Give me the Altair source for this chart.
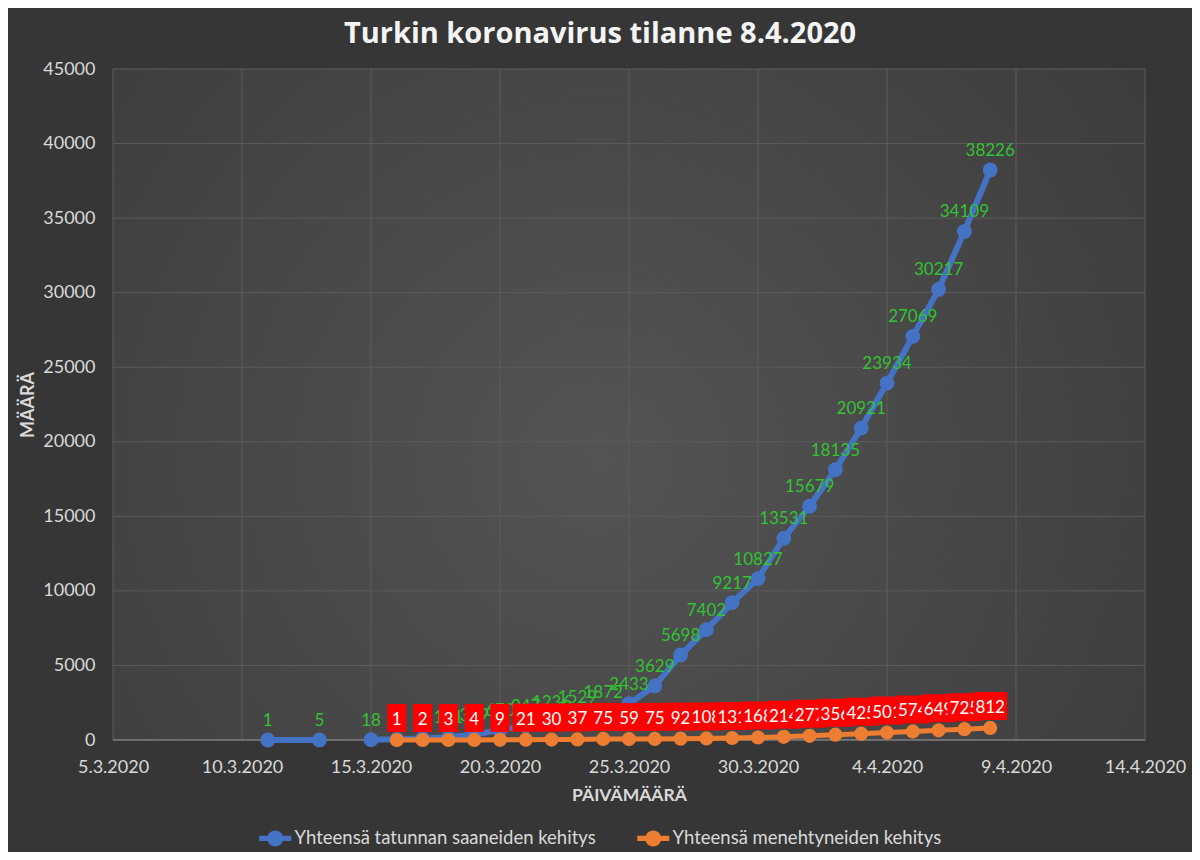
import altair as alt
import pandas as pd

TITLE = "Turkin koronavirus tilanne 8.4.2020"
SERIES = ["Yhteensä tatunnan saaneiden kehitys", "Yhteensä menehtyneiden kehitys"]
X_TITLE = "PÄIVÄMÄÄRÄ"
Y_TITLE = "MÄÄRÄ"

case_dates = ["2020-03-11", "2020-03-13", "2020-03-14", "2020-03-15", "2020-03-16",
              "2020-03-17", "2020-03-18", "2020-03-19", "2020-03-20", "2020-03-21",
              "2020-03-22", "2020-03-23", "2020-03-24", "2020-03-25", "2020-03-26",
              "2020-03-27", "2020-03-28", "2020-03-29", "2020-03-30", "2020-03-31",
              "2020-04-01", "2020-04-02", "2020-04-03", "2020-04-04", "2020-04-05",
              "2020-04-06", "2020-04-07", "2020-04-08"]
case_values = [1, 5, None, 18, 47, 98, 191, 359, 670, 947, 1236, 1529, 1872, 2433,
               3629, 5698, 7402, 9217, 10827, 13531, 15679, 18135, 20921, 23934,
               27069, 30217, 34109, 38226]

death_dates = ["2020-03-16", "2020-03-17", "2020-03-18", "2020-03-19", "2020-03-20",
               "2020-03-21", "2020-03-22", "2020-03-23", "2020-03-24", "2020-03-25",
               "2020-03-26", "2020-03-27", "2020-03-28", "2020-03-29", "2020-03-30",
               "2020-03-31", "2020-04-01", "2020-04-02", "2020-04-03", "2020-04-04",
               "2020-04-05", "2020-04-06", "2020-04-07", "2020-04-08"]
death_values = [1, 2, 3, 4, 9, 21, 30, 37, 75, 59, 75, 92, 108, 131, 168, 214, 277,
                356, 425, 501, 574, 649, 725, 812]

x_ticks = ["2020-03-05", "2020-03-10", "2020-03-15", "2020-03-20", "2020-03-25",
           "2020-03-30", "2020-04-04", "2020-04-09", "2020-04-14"]
y_ticks = [0, 5000, 10000, 15000, 20000, 25000, 30000, 35000, 40000, 45000]

BLUE = "#4472c4"
ORANGE = "#ed7d31"
GREEN = "#33c233"
TXT = "#d9d9d9"
GRID = "#5c5c5c"
FONT = "Lato"


def dt(s):
    y, m, d = (int(p) for p in s.split("-"))
    return alt.DateTime(year=y, month=m, date=d, utc=True)


cases = pd.DataFrame({"date": case_dates, "value": case_values})
cases["seg"] = cases["value"].isna().cumsum()
cases = cases.dropna().copy()
cases["value"] = cases["value"].astype(int)
cases["series"] = SERIES[0]
cases["label"] = cases["value"].astype(str)

deaths = pd.DataFrame({"date": death_dates, "value": death_values})
deaths["series"] = SERIES[1]
deaths["label"] = deaths["value"].astype(str)
deaths["idx"] = range(len(deaths))

xgrid = pd.DataFrame({"date": x_ticks})
ygrid = pd.DataFrame({"value": y_ticks[1:]})
ybase = pd.DataFrame({"value": y_ticks[:1]})

x_scale = alt.Scale(type="utc", domain=[dt(x_ticks[0]), dt(x_ticks[-1])])
y_scale = alt.Scale(domain=[y_ticks[0], y_ticks[-1]], nice=False)

x_enc = alt.X(
    "date:T",
    title=X_TITLE,
    scale=x_scale,
    axis=alt.Axis(values=[dt(s) for s in x_ticks],
                  labelExpr="utcFormat(datum.value, '%-d.%-m.%Y')",
                  labelFont=FONT, labelFontSize=18, labelColor=TXT, labelPadding=18,
                  labelOverlap=False, labelFlush=False, ticks=False,
                  grid=False, domain=False,
                  titleFont=FONT, titleFontSize=17.5, titleFontWeight="bold",
                  titleColor=TXT, titlePadding=10),
)
y_enc = alt.Y(
    "value:Q",
    title=Y_TITLE,
    scale=y_scale,
    axis=alt.Axis(values=y_ticks, format="d", labelFont=FONT, labelFontSize=18,
                  labelColor=TXT, labelPadding=18, ticks=False, domain=False,
                  grid=False,
                  titleFont=FONT, titleFontSize=18, titleFontWeight="bold",
                  titleColor=TXT, titlePadding=5),
)

LEG_PATH = ("M-2,-0.33L2,-0.33L2,0.33L-2,0.33Z "
            "M-1,0A1,1 0 1,1 1,0A1,1 0 1,1 -1,0Z")
color_enc = alt.Color(
    "series:N",
    scale=alt.Scale(domain=SERIES, range=[BLUE, ORANGE]),
    legend=alt.Legend(title=None, orient="none", direction="horizontal",
                      legendX=153, legendY=760, symbolType=LEG_PATH, symbolSize=256,
                      symbolStrokeWidth=0, symbolOpacity=1, labelFont=FONT,
                      labelFontSize=18.5, labelColor=TXT, labelOffset=10,
                      columnPadding=41, labelLimit=0),
)

W, H = 1032, 671
PAD = {"left": 105, "top": 61, "right": 47, "bottom": 112}

bg = alt.Chart(pd.DataFrame({"a": [0]})).mark_rect(
    color=alt.Gradient(gradient="radial", x1=0.47, y1=0.55, x2=0.47, y2=0.55, r1=0, r2=0.72,
                       stops=[alt.GradientStop(offset=0, color="#545454"),
                              alt.GradientStop(offset=1, color="#3a3a3a")])
).encode(x=alt.value(0), x2=alt.value(W), y=alt.value(0), y2=alt.value(H))

vgrid = alt.Chart(xgrid).mark_rule(color=GRID, strokeWidth=1).encode(x=x_enc)
hgrid = alt.Chart(ygrid).mark_rule(color=GRID, strokeWidth=1).encode(y=y_enc)
base = alt.Chart(ybase).mark_rule(color="#a0a0a0", strokeWidth=1).encode(y=y_enc)

blue_line = alt.Chart(cases).mark_line(color=BLUE, strokeWidth=6).encode(
    x=x_enc, y=y_enc, detail="seg:N")
blue_pts = alt.Chart(cases).mark_point(filled=True, size=220, opacity=1).encode(
    x=x_enc, y=y_enc, color=color_enc)
or_line = alt.Chart(deaths).mark_line(color=ORANGE, strokeWidth=5).encode(x=x_enc, y=y_enc)
or_pts = alt.Chart(deaths).mark_point(filled=True, size=200, opacity=1).encode(
    x=x_enc, y=y_enc, color=color_enc)
blue_lbl = alt.Chart(cases).mark_text(
    font=FONT, fontSize=17, color=GREEN, baseline="alphabetic", dy=-14
).encode(x=x_enc, y=y_enc, text="label:N")

layers = [bg, vgrid, hgrid, base, blue_line, blue_pts, or_line, or_pts, blue_lbl]
for i, lab in enumerate(deaths["label"]):
    hw = (7.5 * len(lab) + 11.5) / 2
    path = f"M{-hw},-14L{hw},-14L{hw},14L{-hw},14Z"
    sub = alt.Chart(deaths).transform_filter(alt.datum.idx == i)
    layers.append(sub.mark_point(shape=path, size=4, filled=True, color="#ff0000",
                                 opacity=1, strokeWidth=0, yOffset=-22).encode(x=x_enc, y=y_enc))
    layers.append(sub.mark_text(font=FONT, fontSize=17, color="white",
                                baseline="alphabetic", dy=-15).encode(
        x=x_enc, y=y_enc, text="label:N"))

chart = alt.layer(*layers).properties(
    width=W, height=H,
    title=alt.TitleParams(TITLE, font="Open Sans", fontSize=29, fontWeight="bold",
                          color="#f4f4f4", anchor="middle", dx=-29, offset=11),
    autosize=alt.AutoSizeParams(type="none"),
    padding=PAD,
    background="#363636",
).configure_view(stroke=None)

chart.save("out.html", embed_options={"renderer": "svg", "actions": False})
